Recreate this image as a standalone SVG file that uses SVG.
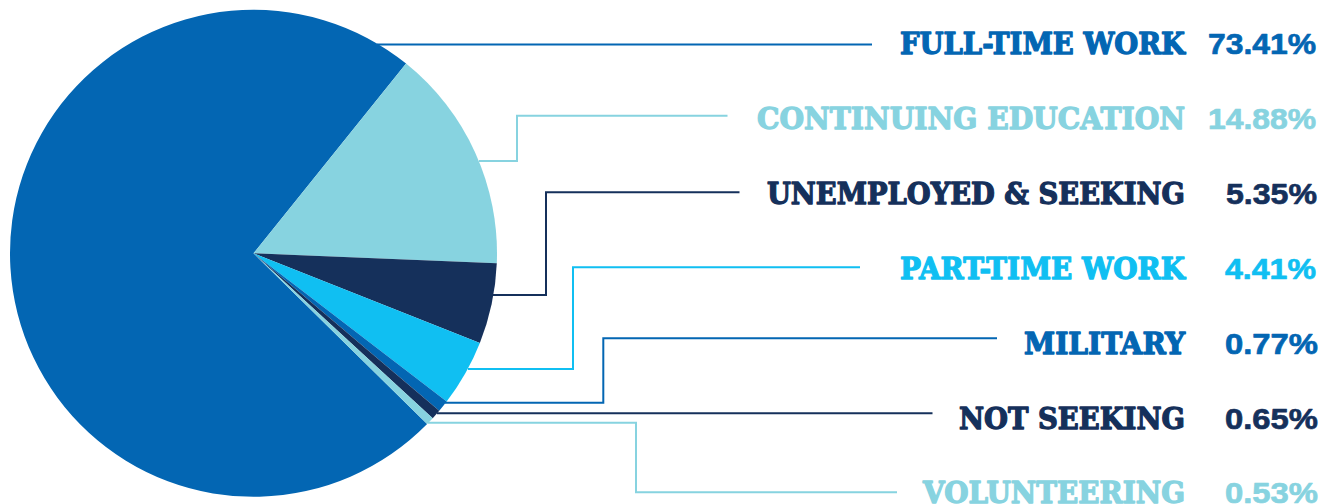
<svg xmlns="http://www.w3.org/2000/svg" width="1337" height="504" viewBox="0 0 1337 504">
<style>
.c1{fill:#0366b3}.c2{fill:#87d3e0}.c3{fill:#15305b}.c4{fill:#10bff2}
.s1{stroke:#0366b3}.s2{stroke:#87d3e0}.s3{stroke:#15305b}.s4{stroke:#10bff2}
.ln{fill:none;stroke-width:2}
.lab{font-family:"DejaVu Serif","Liberation Serif",serif;font-weight:bold;font-size:29px;text-anchor:end;stroke-width:1.3;stroke-linejoin:round}
.pct{font-family:"Liberation Sans","Open Sans",sans-serif;font-weight:bold;font-size:30px;text-anchor:end;stroke-width:0.7;stroke-linejoin:round}
.t1{fill:#0366b3;stroke:#0366b3}.t2{fill:#87d3e0;stroke:#87d3e0}.t3{fill:#15305b;stroke:#15305b}.t4{fill:#10bff2;stroke:#10bff2}
</style>
<g id="connectors">
<path class="ln s1" d="M377 44.5H872"/>
<path class="ln s2" d="M479 161H517V115.7H727.5"/>
<path class="ln s3" d="M493 295H546V192.3H739.5"/>
<path class="ln s4" d="M468 369H573V267.3H860"/>
<path class="ln s1" d="M445 402.7H603.3V338.3H997"/>
<path class="ln s3" d="M437 413.3H932.5"/>
<path class="ln s2" d="M428 422.7H636V492.3H897"/>
</g>
<g id="pie">
<path id="slice-fulltime" class="c1" d="M253.5 253.3L427.11 424.04A243.5 243.5 0 1 1 406.08 63.54Z"/>
<path id="slice-continuing" class="c2" d="M253.5 253.3L406.08 63.54A243.5 243.5 0 0 1 496.79 263.36Z"/>
<path id="slice-unemployed" class="c3" d="M253.5 253.3L496.79 263.36A243.5 243.5 0 0 1 479.86 343.05Z"/>
<path id="slice-parttime" class="c4" d="M253.5 253.3L479.86 343.05A243.5 243.5 0 0 1 446.68 401.54Z"/>
<path id="slice-military" class="c1" d="M253.5 253.3L446.68 401.54A243.5 243.5 0 0 1 439.25 410.75Z"/>
<path id="slice-notseeking" class="c3" d="M253.5 253.3L439.25 410.75A243.5 243.5 0 0 1 432.72 418.13Z"/>
<path id="slice-volunteering" class="c2" d="M253.5 253.3L432.72 418.13A243.5 243.5 0 0 1 427.11 424.04Z"/>
</g>
<g id="label-fulltime">
<text class="lab t1" x="1185" y="54" textLength="285" lengthAdjust="spacingAndGlyphs">FULL-TIME WORK</text>
<text class="pct t1" x="1316" y="54" textLength="108" lengthAdjust="spacingAndGlyphs">73.41%</text>
</g>
<g id="label-continuing">
<text class="lab t2" x="1185" y="129" textLength="428" lengthAdjust="spacingAndGlyphs">CONTINUING EDUCATION</text>
<text class="pct t2" x="1316" y="129" textLength="108" lengthAdjust="spacingAndGlyphs">14.88%</text>
</g>
<g id="label-unemployed">
<text class="lab t3" x="1185" y="204" textLength="418" lengthAdjust="spacingAndGlyphs">UNEMPLOYED &amp; SEEKING</text>
<text class="pct t3" x="1317" y="204" textLength="91" lengthAdjust="spacingAndGlyphs">5.35%</text>
</g>
<g id="label-parttime">
<text class="lab t4" x="1185" y="279" textLength="285" lengthAdjust="spacingAndGlyphs">PART-TIME WORK</text>
<text class="pct t4" x="1316" y="279" textLength="91" lengthAdjust="spacingAndGlyphs">4.41%</text>
</g>
<g id="label-military">
<text class="lab t1" x="1185" y="354" textLength="161" lengthAdjust="spacingAndGlyphs">MILITARY</text>
<text class="pct t1" x="1318" y="354" textLength="93" lengthAdjust="spacingAndGlyphs">0.77%</text>
</g>
<g id="label-notseeking">
<text class="lab t3" x="1185" y="429" textLength="226" lengthAdjust="spacingAndGlyphs">NOT SEEKING</text>
<text class="pct t3" x="1318" y="429" textLength="93" lengthAdjust="spacingAndGlyphs">0.65%</text>
</g>
<g id="label-volunteering">
<text class="lab t2" x="1185" y="503" textLength="262" lengthAdjust="spacingAndGlyphs">VOLUNTEERING</text>
<text class="pct t2" x="1318" y="503" textLength="93" lengthAdjust="spacingAndGlyphs">0.53%</text>
</g>
</svg>
